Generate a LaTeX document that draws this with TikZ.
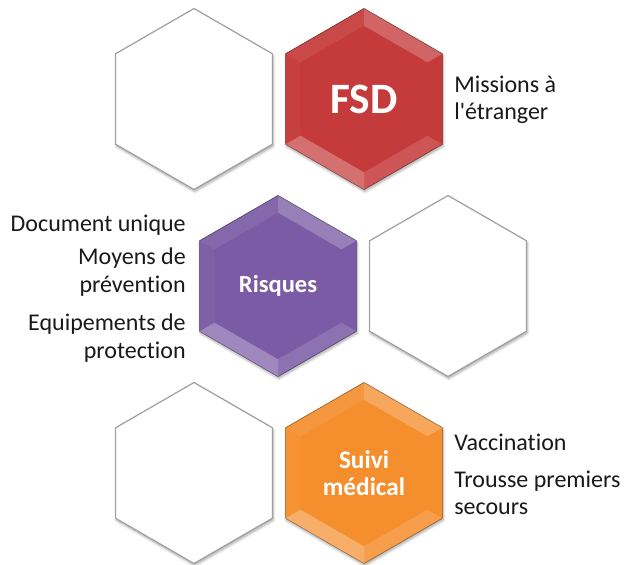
\documentclass[tikz,border=0pt]{standalone}
\usepackage{fontspec}
\setmainfont{Carlito}[Ligatures={NoCommon}]
\usepackage{tikz}
\usetikzlibrary{shapes.geometric, shadows.blur}

\definecolor{rougefsd}{RGB}{197,58,58}
\definecolor{violetrisq}{RGB}{123,91,165}
\definecolor{orangesuivi}{RGB}{245,143,46}

\begin{document}
\begin{tikzpicture}[x=0.75pt, y=-0.75pt]
        \tikzstyle{every node} = [font=\fontsize{18}{20.5}\selectfont, text=black!90]
        \tikzstyle{hexa} = [regular polygon, regular polygon sides=6, shape border rotate=30, minimum size=135.75pt,
                inner sep=0pt, blur shadow={shadow xshift=0.6pt, shadow yshift=-1.5pt, shadow blur steps=6, shadow opacity=35}]
        \tikzstyle{vide} = [hexa, draw=gray!75, line width=0.9pt, fill=white]
        \tikzstyle{theme} = [hexa, line width=0.5pt, text=white, align=center]
        \tikzstyle{gauche} = [inner sep=0pt, anchor=east, align=right]
        \tikzstyle{droite} = [inner sep=0pt, anchor=west, align=left]

        \def\niva{99}
        \def\nivb{286}
        \def\nivc{473}
        \def\cola{194}
        \def\colb{364}
        \def\colc{278}
        \def\cold{448}
        \def\rout{67.9pt}
        \def\rin{55pt}

        \useasboundingbox (0,0) rectangle (633,565);

        \node[vide] (videa) at (\cola,\niva) {};
        \node[theme, fill=rougefsd, draw=rougefsd!60!black, font=\bfseries\fontsize{32.5}{34}\selectfont] (fsd) at (\colb,\niva) {FSD};
        \node[theme, fill=violetrisq, draw=violetrisq!60!black, font=\bfseries\fontsize{18.4}{20}\selectfont] (risques) at (\colc,\nivb) {Risques};
        \node[vide] (videb) at (\cold,\nivb) {};
        \node[vide] (videc) at (\cola,\nivc) {};
        \node[theme, fill=orangesuivi, draw=orangesuivi!60!black, font=\bfseries\fontsize{19}{20}\selectfont] (suivi) at (\colb,\nivc) {Suivi\\médical};

        % facettes du biseau
        \foreach \hex in {fsd, risques, suivi}
            \foreach \a/\op in {90/0.08, 150/0.03, 210/0.28, 270/0.14, 330/0, 30/0.22}
                \fill[white, opacity=\op] ([shift={(\a:\rout)}]\hex.center) -- ([shift={(\a+60:\rout)}]\hex.center)
                    -- ([shift={(\a+60:\rin)}]\hex.center) -- ([shift={(\a:\rin)}]\hex.center) -- cycle;

        \node[gauche] (docu) at (186,225) {Document unique};
        \node[gauche] (moyens) at (186,272) {Moyens de\\prévention};
        \node[gauche] (equip) at (186,338) {Equipements de\\protection};

        \node[droite] (missions) at (454,100) {Missions à\\l\textquotesingle étranger};
        \node[droite] (vacc) at (454,442) {Vaccination};
        \node[droite] (trousse) at (454,493) {Trousse premiers\\secours};
    \end{tikzpicture}
\end{document}
